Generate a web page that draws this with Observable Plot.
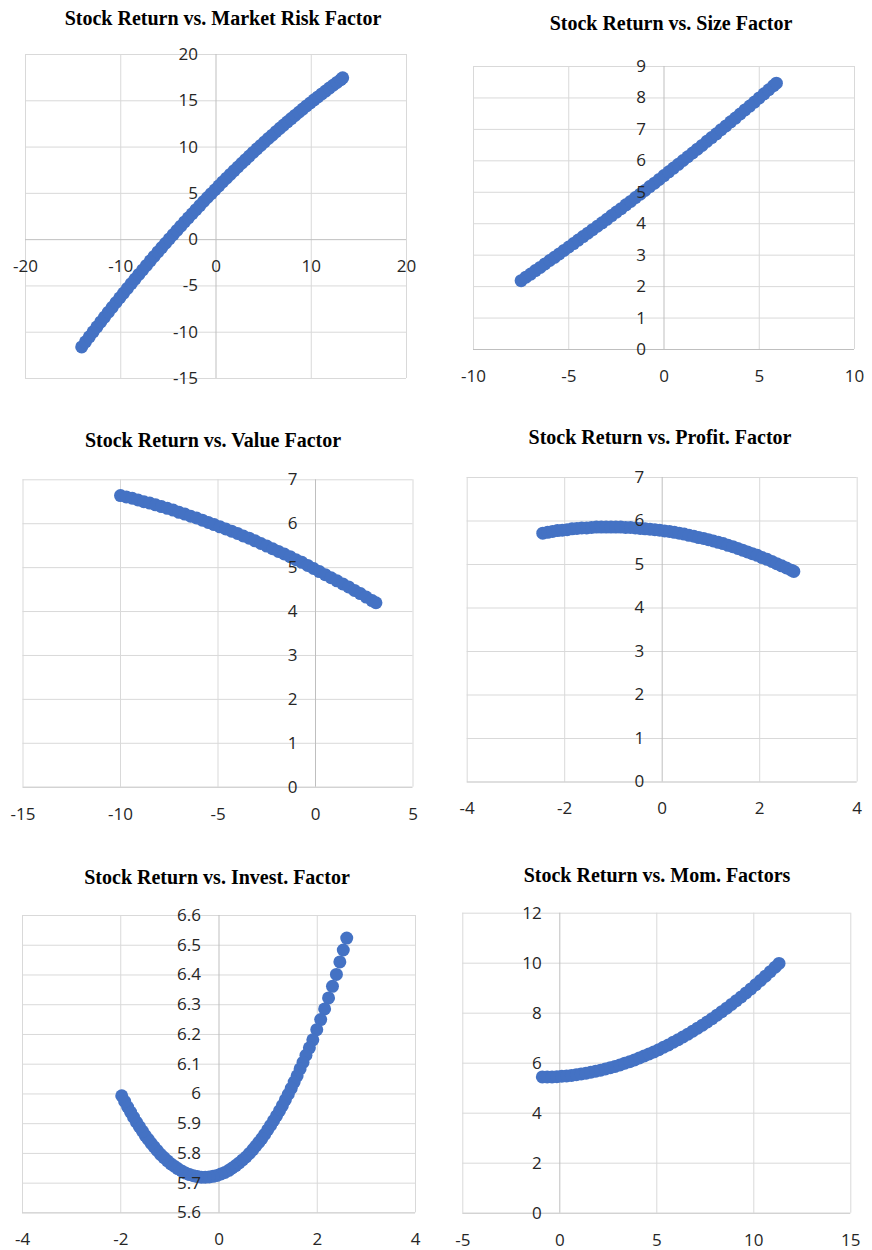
<!DOCTYPE html>
<html><head><meta charset="utf-8">
<script src="https://cdn.jsdelivr.net/npm/d3@7"></script>
<script src="https://cdn.jsdelivr.net/npm/@observablehq/plot@0.6"></script>
<style>
body{margin:0;background:#fff;}
#root{position:relative;width:872px;height:1250px;overflow:hidden;background:#fff;}
.title{position:absolute;width:440px;text-align:center;font-family:"Liberation Serif","Times New Roman",serif;font-weight:bold;font-size:20px;line-height:20px;color:#000;white-space:nowrap;}
.panel{position:absolute;}
</style></head><body><div id="root"></div>
<script>
// ---------- data ----------
const titles = [
  "Stock Return vs. Market Risk Factor",
  "Stock Return vs. Size Factor",
  "Stock Return vs. Value Factor",
  "Stock Return vs. Profit. Factor",
  "Stock Return vs. Invest. Factor",
  "Stock Return vs. Mom. Factors"
];

const mktX = [-14.1,-13.7,-13.3,-12.9,-12.5,-12.1,-11.7,-11.3,-10.9,-10.5,-10.1,-9.7,-9.3,-8.9,-8.5,-8.1,-7.7,-7.3,-6.9,-6.5,-6.1,-5.7,-5.3,-4.9,-4.5,-4.1,-3.7,-3.3,-2.9,-2.5,-2.1,-1.7,-1.3,-0.9,-0.5,-0.1,0.3,0.7,1.1,1.5,1.9,2.3,2.7,3.1,3.5,3.9,4.3,4.7,5.1,5.5,5.9,6.3,6.7,7.1,7.5,7.9,8.3,8.7,9.1,9.5,9.9,10.3,10.7,11.1,11.5,11.9,12.3,12.7,13.1,13.3];
const mktY = [-11.59,-11.04,-10.50,-9.96,-9.42,-8.89,-8.36,-7.83,-7.31,-6.79,-6.28,-5.77,-5.26,-4.76,-4.26,-3.76,-3.27,-2.78,-2.29,-1.81,-1.33,-0.86,-0.39,0.08,0.54,1.00,1.46,1.91,2.36,2.80,3.24,3.68,4.12,4.55,4.97,5.39,5.81,6.23,6.64,7.05,7.45,7.85,8.25,8.64,9.03,9.42,9.80,10.18,10.56,10.93,11.29,11.66,12.02,12.38,12.73,13.08,13.42,13.76,14.10,14.44,14.77,15.10,15.42,15.74,16.05,16.37,16.68,16.98,17.28,17.48];

const sizeX = [-7.5,-7.25,-7,-6.75,-6.5,-6.25,-6,-5.75,-5.5,-5.25,-5,-4.75,-4.5,-4.25,-4,-3.75,-3.5,-3.25,-3,-2.75,-2.5,-2.25,-2,-1.75,-1.5,-1.25,-1,-0.75,-0.5,-0.25,0,0.25,0.5,0.75,1,1.25,1.5,1.75,2,2.25,2.5,2.75,3,3.25,3.5,3.75,4,4.25,4.5,4.75,5,5.25,5.5,5.75,5.9];
const sizeY = [2.19,2.30,2.40,2.51,2.61,2.72,2.83,2.93,3.04,3.15,3.26,3.37,3.48,3.59,3.70,3.81,3.92,4.03,4.14,4.26,4.37,4.48,4.60,4.71,4.83,4.94,5.06,5.18,5.29,5.41,5.53,5.65,5.77,5.89,6.01,6.13,6.25,6.37,6.49,6.62,6.74,6.86,6.99,7.11,7.24,7.36,7.49,7.62,7.74,7.87,8.00,8.13,8.26,8.39,8.47];

const valX = [-10,-9.7,-9.4,-9.1,-8.8,-8.5,-8.2,-7.9,-7.6,-7.3,-7,-6.7,-6.4,-6.1,-5.8,-5.5,-5.2,-4.9,-4.6,-4.3,-4,-3.7,-3.4,-3.1,-2.8,-2.5,-2.2,-1.9,-1.6,-1.3,-1,-0.7,-0.4,-0.1,0.2,0.5,0.8,1.1,1.4,1.7,2,2.3,2.6,2.9,3.1];
const valY = [6.64,6.61,6.58,6.54,6.50,6.47,6.43,6.39,6.35,6.31,6.26,6.22,6.17,6.13,6.08,6.03,5.98,5.93,5.88,5.83,5.78,5.72,5.67,5.61,5.55,5.49,5.43,5.37,5.31,5.25,5.18,5.12,5.05,4.98,4.91,4.84,4.77,4.70,4.63,4.56,4.48,4.41,4.33,4.25,4.20];

const profX = [-2.45,-2.35,-2.25,-2.15,-2.05,-1.95,-1.85,-1.75,-1.65,-1.55,-1.45,-1.35,-1.25,-1.15,-1.05,-0.95,-0.85,-0.75,-0.65,-0.55,-0.45,-0.35,-0.25,-0.15,-0.05,0.05,0.15,0.25,0.35,0.45,0.55,0.65,0.75,0.85,0.95,1.05,1.15,1.25,1.35,1.45,1.55,1.65,1.75,1.85,1.95,2.05,2.15,2.25,2.35,2.45,2.55,2.65,2.7];
const profY = [5.72,5.74,5.76,5.78,5.79,5.80,5.82,5.83,5.84,5.84,5.85,5.86,5.86,5.86,5.86,5.86,5.86,5.85,5.85,5.84,5.83,5.82,5.81,5.80,5.79,5.77,5.76,5.74,5.72,5.70,5.67,5.65,5.62,5.60,5.57,5.54,5.51,5.48,5.44,5.41,5.37,5.33,5.29,5.25,5.21,5.16,5.12,5.07,5.02,4.97,4.92,4.87,4.84];

const invX = [2.60,2.53,2.46,2.39,2.31,2.23,2.15,2.07,1.99,1.91,1.84,1.77,1.71,1.65,1.59,1.53,1.47,1.41,1.35,1.29,1.23,1.17,1.11,1.05,0.99,0.93,0.87,0.81,0.75,0.69,0.62,0.55,0.48,0.41,0.34,0.27,0.20,0.12,0.04,-0.04,-0.12,-0.20,-0.28,-0.36,-0.44,-0.52,-0.60,-0.68,-0.76,-0.84,-0.91,-0.98,-1.05,-1.12,-1.19,-1.26,-1.32,-1.38,-1.44,-1.50,-1.56,-1.62,-1.68,-1.74,-1.80,-1.86,-1.92,-1.98];
const invY = [6.524,6.484,6.444,6.402,6.362,6.323,6.286,6.250,6.216,6.182,6.155,6.130,6.106,6.084,6.061,6.040,6.019,5.999,5.980,5.961,5.943,5.926,5.910,5.894,5.879,5.864,5.850,5.837,5.825,5.813,5.800,5.788,5.778,5.768,5.759,5.751,5.743,5.736,5.731,5.726,5.723,5.721,5.720,5.720,5.722,5.725,5.729,5.734,5.741,5.749,5.757,5.765,5.775,5.786,5.797,5.810,5.822,5.834,5.847,5.860,5.875,5.890,5.905,5.922,5.939,5.956,5.975,5.994];

const momX = [-0.9,-0.65,-0.4,-0.15,0.1,0.35,0.6,0.85,1.1,1.35,1.6,1.85,2.1,2.35,2.6,2.85,3.1,3.35,3.6,3.85,4.1,4.35,4.6,4.85,5.1,5.35,5.6,5.85,6.1,6.35,6.6,6.85,7.1,7.35,7.6,7.85,8.1,8.35,8.6,8.85,9.1,9.35,9.6,9.85,10.1,10.35,10.6,10.85,11.1,11.3];
const momY = [5.45,5.45,5.45,5.46,5.48,5.49,5.51,5.54,5.57,5.60,5.64,5.68,5.72,5.77,5.82,5.87,5.93,6.00,6.06,6.13,6.21,6.29,6.37,6.45,6.54,6.64,6.73,6.84,6.94,7.05,7.16,7.28,7.40,7.52,7.65,7.78,7.92,8.06,8.20,8.35,8.50,8.65,8.81,8.97,9.14,9.31,9.48,9.66,9.84,9.99];

const mktXTicks = [-20,-10,0,10,20],  mktYTicks = [-15,-10,-5,0,5,10,15,20];
const sizeXTicks = [-10,-5,0,5,10],   sizeYTicks = [0,1,2,3,4,5,6,7,8,9];
const valXTicks = [-15,-10,-5,0,5],   valYTicks = [0,1,2,3,4,5,6,7];
const profXTicks = [-4,-2,0,2,4],     profYTicks = [0,1,2,3,4,5,6,7];
const invXTicks = [-4,-2,0,2,4],      invYTicks = [5.6,5.7,5.8,5.9,6,6.1,6.2,6.3,6.4,6.5,6.6];
const momXTicks = [-5,0,5,10,15],     momYTicks = [0,2,4,6,8,10,12];

// ---------- layout ----------
const panels = [
  {xs:mktX, ys:mktY, xt:mktXTicks, yt:mktYTicks, left:0, top:40, w:420, h:360, ml:25, mr:14, mt:14, mb:22, tx:223, ty:8},
  {xs:sizeX, ys:sizeY, xt:sizeXTicks, yt:sizeYTicks, left:436, top:40, w:436, h:340, ml:37, mr:18, mt:26, mb:31, tx:671, ty:13},
  {xs:valX, ys:valY, xt:valXTicks, yt:valYTicks, left:0, top:460, w:436, h:360, ml:22.5, mr:23.5, mt:19.3, mb:33.3, tx:213, ty:430},
  {xs:profX, ys:profY, xt:profXTicks, yt:profYTicks, left:436, top:460, w:436, h:360, ml:30.7, mr:15.3, mt:17, mb:38.5, tx:660, ty:427},
  {xs:invX, ys:invY, xt:invXTicks, yt:invYTicks, left:0, top:900, w:436, h:350, ml:22, mr:21, mt:15, mb:37.6, tx:217, ty:867},
  {xs:momX, ys:momY, xt:momXTicks, yt:momYTicks, left:436, top:900, w:436, h:350, ml:26.3, mr:21.7, mt:12.7, mb:37.3, tx:657, ty:865}
];

const root = document.getElementById("root");
const fmt = d => String(+d.toFixed(1));
const GRID = "#d9d9d9", AXIS = "#bfbfbf", BLUE = "#4472C4", LABEL = "#262626";

panels.forEach((p, i) => {
  const t = document.createElement("div");
  t.className = "title";
  t.textContent = titles[i];
  t.style.left = (p.tx - 220) + "px";
  t.style.top = p.ty + "px";
  root.appendChild(t);

  const data = p.xs.map((x, k) => ({x, y: p.ys[k]}));
  const xDom = [p.xt[0], p.xt[p.xt.length - 1]];
  const yDom = [p.yt[0], p.yt[p.yt.length - 1]];
  const yAxisAt = yDom[0] < 0 ? 0 : yDom[0];

  const chart = Plot.plot({
    width: p.w, height: p.h,
    marginLeft: p.ml, marginRight: p.mr, marginTop: p.mt, marginBottom: p.mb,
    style: {background: "transparent", overflow: "visible"},
    x: {domain: xDom, axis: null},
    y: {domain: yDom, axis: null},
    marks: [
      Plot.ruleX(p.xt.filter(v => v !== 0), {stroke: GRID, strokeWidth: 1}),
      Plot.ruleY(p.yt.filter(v => v !== yAxisAt), {stroke: GRID, strokeWidth: 1}),
      Plot.ruleX([0], {stroke: AXIS, strokeWidth: 1}),
      Plot.ruleY([yAxisAt], {stroke: AXIS, strokeWidth: 1}),
      Plot.dot(data, {x: "x", y: "y", r: 6.5, fill: BLUE, stroke: null}),
      Plot.text(p.yt, {x: () => 0, y: d => d, text: fmt, textAnchor: "end", dx: -18,
        fontFamily: "Open Sans", fontSize: 17, fill: LABEL}),
      Plot.text(p.xt, {x: d => d, y: () => yAxisAt, text: fmt, dy: 27,
        fontFamily: "Open Sans", fontSize: 17, fill: LABEL})
    ]
  });
  const holder = document.createElement("div");
  holder.className = "panel";
  holder.style.left = p.left + "px";
  holder.style.top = p.top + "px";
  holder.appendChild(chart);
  root.appendChild(holder);
});
</script>
</body></html>
